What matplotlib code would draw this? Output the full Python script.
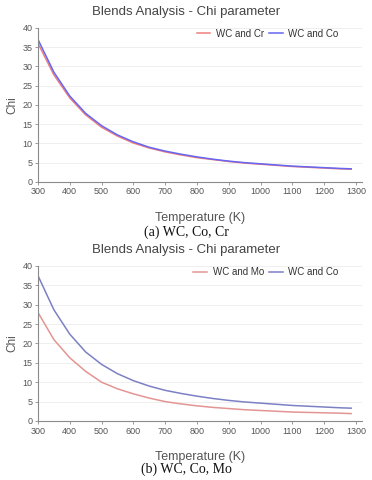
import matplotlib
matplotlib.use("Agg")
import matplotlib.pyplot as plt

# temperature grid (K) and chi values
temps = [300, 350, 400, 450, 500, 550, 600, 650, 700, 750, 800,
         850, 900, 950, 1000, 1050, 1100, 1150, 1200, 1250, 1285]

chi_cr = [36.0, 27.8, 21.8, 17.4, 14.2, 11.9, 10.1, 8.8, 7.8, 7.0, 6.3,
          5.8, 5.3, 4.9, 4.6, 4.3, 4.0, 3.8, 3.6, 3.4, 3.3]
chi_co_a = [37.0, 28.5, 22.3, 17.8, 14.6, 12.2, 10.4, 9.0, 8.0, 7.2, 6.5,
            5.9, 5.4, 5.0, 4.7, 4.4, 4.1, 3.9, 3.7, 3.5, 3.4]

chi_mo = [28.0, 21.0, 16.3, 12.8, 10.0, 8.3, 7.0, 5.9, 5.0, 4.4, 3.9,
          3.5, 3.2, 2.9, 2.7, 2.5, 2.3, 2.2, 2.1, 2.0, 1.9]
chi_co_b = [37.5, 28.7, 22.4, 17.8, 14.6, 12.2, 10.4, 9.0, 7.9, 7.1, 6.4,
            5.8, 5.3, 4.9, 4.6, 4.3, 4.0, 3.8, 3.6, 3.4, 3.3]

x_ticks = [300, 400, 500, 600, 700, 800, 900, 1000, 1100, 1200, 1300]
y_ticks = [0, 5, 10, 15, 20, 25, 30, 35, 40]

TXT = "#555555"
SANS = ["Liberation Sans", "DejaVu Sans"]


def draw_panel(fig, rect, series, caption, cap_y):
    ax = fig.add_axes(rect)
    for y, color, label in series:
        ax.plot(temps, y, color=color, lw=1.1, label=label)
    ax.set_xlim(300, 1319)
    ax.set_ylim(0, 40)
    ax.set_xticks(x_ticks)
    ax.set_yticks(y_ticks)
    ax.grid(axis="y", color="#ececec", lw=0.6)
    ax.set_axisbelow(True)
    for side in ("top", "right"):
        ax.spines[side].set_visible(False)
    for side in ("left", "bottom"):
        ax.spines[side].set_color("#8a8a8a")
        ax.spines[side].set_linewidth(0.8)
    ax.tick_params(colors="#8a8a8a", labelcolor=TXT, labelsize=6.5,
                   length=2, width=0.6, pad=2)
    for lab in ax.get_xticklabels() + ax.get_yticklabels():
        lab.set_family(SANS)
    # title sits ~17 px above the plot area
    ax.text(0.457, 1.104, "Blends Analysis - Chi parameter", transform=ax.transAxes,
            ha="center", va="center", fontsize=9.5, color="#444444", family=SANS)
    ax.set_xlabel("Temperature (K)", fontsize=9, color=TXT, family=SANS,
                  labelpad=11)
    ax.set_ylabel("Chi", fontsize=8.5, color=TXT, family=SANS, labelpad=3)
    leg = ax.legend(loc="upper right", bbox_to_anchor=(0.955, 1.05), ncol=2,
                    frameon=False, handlelength=1.4,
                    columnspacing=0.5, handletextpad=0.6,
                    prop={"family": SANS, "size": 7})
    for t in leg.get_texts():
        t.set_color("#333333")
    fig.text(0.5, cap_y, caption, ha="center", va="center", fontsize=10,
             family=["Liberation Serif", "DejaVu Serif"], color="#111111")
    return ax


fig = plt.figure(figsize=(3.72, 4.80), dpi=100)

draw_panel(fig, [0.102, 0.621, 0.871, 0.321],
           [(chi_cr, "#f07f7f", "WC and Cr"), (chi_co_a, "#6666f0", "WC and Co")],
           "(a) WC, Co, Cr", 0.517)
draw_panel(fig, [0.102, 0.123, 0.871, 0.323],
           [(chi_mo, "#e39593", "WC and Mo"), (chi_co_b, "#7c80c4", "WC and Co")],
           "(b) WC, Co, Mo", 0.022)

fig.savefig("out.png", dpi=100)
